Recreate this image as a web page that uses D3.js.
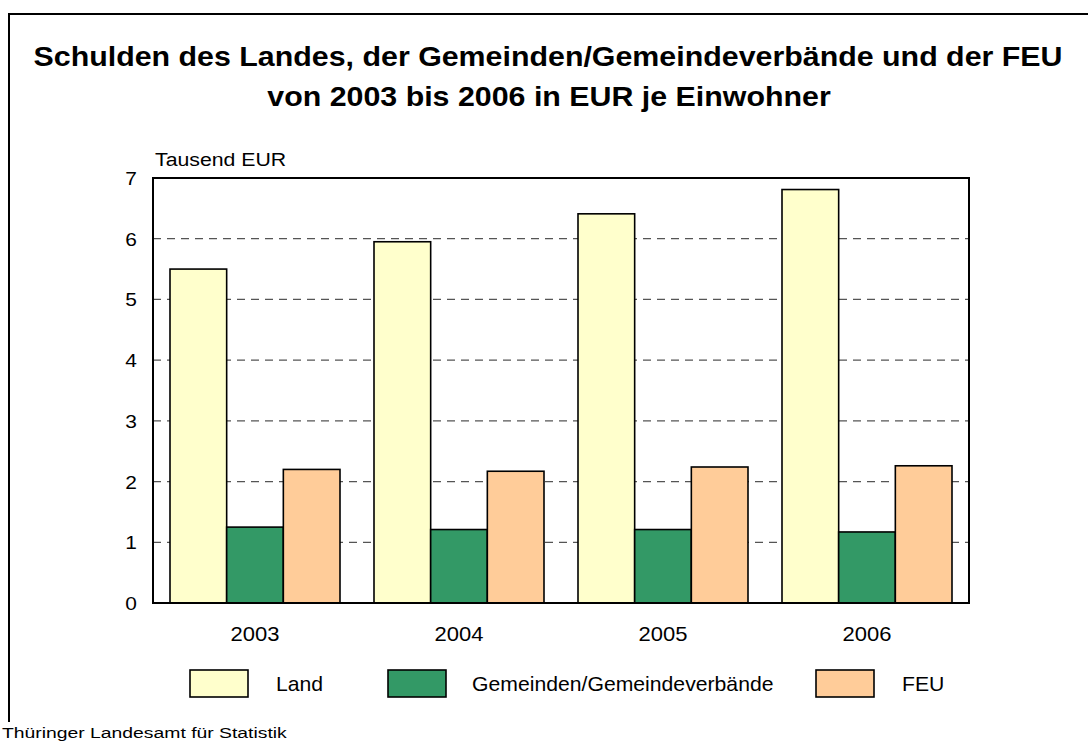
<!DOCTYPE html>
<html>
<head>
<meta charset="utf-8">
<script src="https://cdn.jsdelivr.net/npm/d3@7"></script>
<style>
  body { margin: 0; background: #fff; }
  svg { font-family: "Liberation Sans", Arial, sans-serif; }
</style>
</head>
<body>
<script>
let years = ["2003", "2004", "2005", "2006"]
let series = ["Land", "Gemeinden/Gemeindeverbände", "FEU"]
let land = [5.50, 5.95, 6.41, 6.81]
let gemeinden = [1.25, 1.21, 1.21, 1.17]
let feu = [2.20, 2.17, 2.24, 2.26]
let colors = ["#FFFFCC", "#339966", "#FFCC99"]
let yTicks = [0, 1, 2, 3, 4, 5, 6, 7]

let width = 1088
let height = 747
let margin = {left: 153, top: 178, right: 1088 - 969, bottom: 747 - 603}

let values = [land, gemeinden, feu]

let svg = d3.select('body').append('svg')
    .attr('width', width)
    .attr('height', height)

// text in the original is a bit wider than the font, so stretch it horizontally
function label(parent, x, y, size, sx, str) {
    return parent.append('text')
        .attr('transform', 'translate(' + x + ',' + y + ') scale(' + sx + ',1)')
        .attr('font-size', size)
        .text(str)
}

// outer frame (only left and top visible)
svg.append('path')
    .attr('d', 'M9,722V14H1088')
    .attr('fill', 'none')
    .attr('stroke', '#000')
    .attr('stroke-width', 2)

label(svg, 548, 66, 27, 1.125, 'Schulden des Landes, der Gemeinden/Gemeindeverbände und der FEU')
    .attr('text-anchor', 'middle').attr('font-weight', 'bold')
label(svg, 549, 106, 27, 1.125, 'von 2003 bis 2006 in EUR je Einwohner')
    .attr('text-anchor', 'middle').attr('font-weight', 'bold')

let x = d3.scaleBand()
    .domain(years)
    .range([margin.left, width - margin.right])

let xs = d3.scaleBand()
    .domain(series)
    .range([17, x.bandwidth() - 17])

let y = d3.scaleLinear()
    .domain([0, 7])
    .range([height - margin.bottom, margin.top])

// gridlines
svg.append('g')
    .selectAll('line')
    .data(yTicks.filter(d => d > 0 && d < 7))
    .enter().append('line')
    .attr('x1', margin.left).attr('x2', width - margin.right)
    .attr('y1', d => y(d)).attr('y2', d => y(d))
    .attr('stroke', '#555')
    .attr('stroke-width', 1.2)
    .attr('stroke-dasharray', '8,6')

// bars
let groups = svg.append('g')
    .selectAll('g')
    .data(years)
    .enter().append('g')
    .attr('transform', d => 'translate(' + x(d) + ',0)')

groups.selectAll('rect')
    .data((d, i) => series.map((s, j) => ({s: s, j: j, v: values[j][i]})))
    .enter().append('rect')
    .attr('x', d => xs(d.s))
    .attr('width', xs.bandwidth())
    .attr('y', d => y(d.v))
    .attr('height', d => y(0) - y(d.v))
    .attr('fill', d => colors[d.j])
    .attr('stroke', '#000')
    .attr('stroke-width', 1.6)

// plot frame
svg.append('rect')
    .attr('x', margin.left).attr('y', margin.top)
    .attr('width', width - margin.right - margin.left)
    .attr('height', height - margin.bottom - margin.top)
    .attr('fill', 'none')
    .attr('stroke', '#000')
    .attr('stroke-width', 2)

// y tick labels
let yLab = svg.append('g')
yTicks.forEach(t => {
    label(yLab, 137, y(t) + 7, 19, 1.1, t).attr('text-anchor', 'end')
})

label(svg, 155, 166, 19, 1.12, 'Tausend EUR')

// x labels
let xLab = svg.append('g')
years.forEach(d => {
    label(xLab, x(d) + x.bandwidth() / 2, 641, 20, 1.1, d).attr('text-anchor', 'middle')
})

// legend
let legendX = [190, 388, 816]
let textX = [276, 472, 902]
series.forEach((s, i) => {
    svg.append('rect')
        .attr('x', legendX[i]).attr('y', 670)
        .attr('width', 58).attr('height', 27)
        .attr('fill', colors[i])
        .attr('stroke', '#000')
        .attr('stroke-width', 1.6)
    label(svg, textX[i], 691, 20, 1.06, s)
})

label(svg, 2, 738, 15, 1.29, 'Thüringer Landesamt für Statistik')
</script>
</body>
</html>
